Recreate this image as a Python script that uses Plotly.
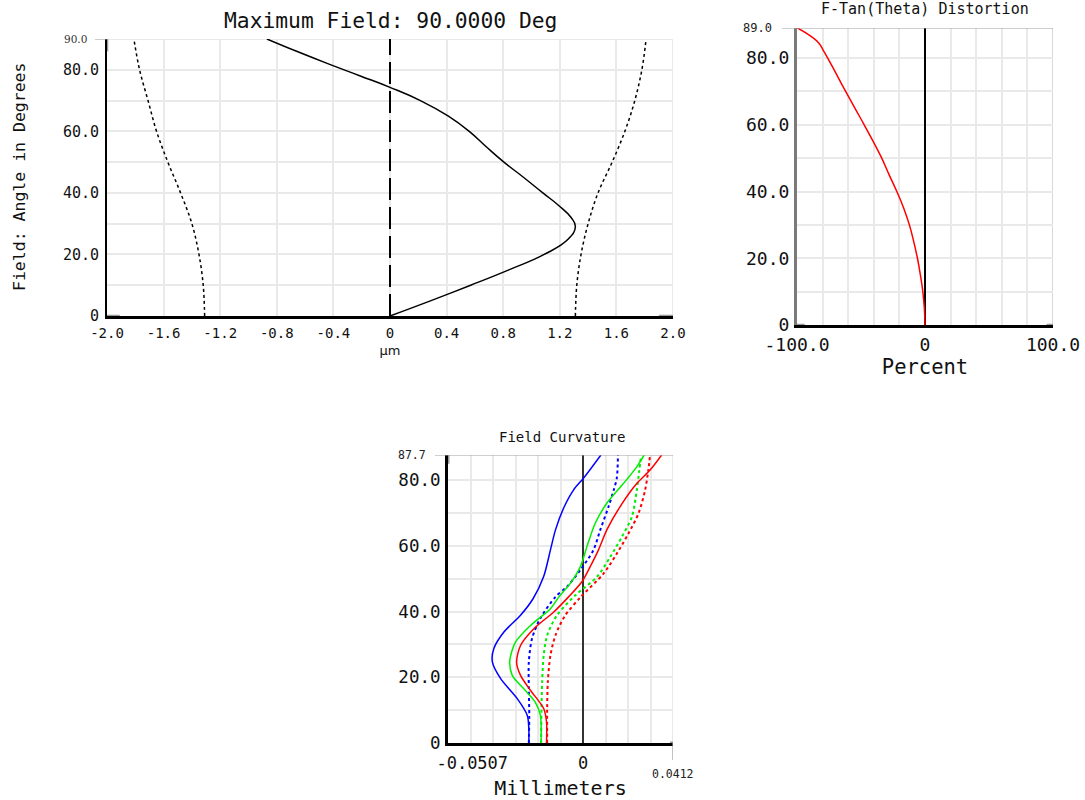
import plotly.graph_objects as go

W, H = 1085, 800
def px(x):
    return x / W
def py(y):
    return 1 - y / H

MONO = "DejaVu Sans Mono"
GRID = "#e9e9e9"
EDGE = "#9a9a9a"

# ---------------- Panel 1: Maximum Field ----------------
p1_field_solid = [0, 5, 10, 15, 20, 25, 29, 32, 36, 40, 45, 50, 55, 60, 65, 70, 74.3, 78, 82, 86, 90]
p1_x_solid = [0, 0.29, 0.57, 0.84, 1.09, 1.26, 1.31, 1.28, 1.19, 1.08, 0.945, 0.805, 0.68, 0.56, 0.41, 0.215, 0.0, -0.21, -0.44, -0.66, -0.87]
p1_field_left = [0, 10, 20, 30, 40, 50, 60, 70, 80, 90]
p1_x_left = [-1.31, -1.32, -1.35, -1.40, -1.48, -1.57, -1.65, -1.71, -1.77, -1.81]
p1_field_right = [0, 10, 20, 30, 40, 50, 60, 70, 80, 90]
p1_x_right = [1.31, 1.32, 1.35, 1.40, 1.47, 1.57, 1.66, 1.73, 1.78, 1.81]
p1_xticks = [-2.0, -1.6, -1.2, -0.8, -0.4, 0, 0.4, 0.8, 1.2, 1.6, 2.0]
p1_xtext = ["-2.0", "-1.6", "-1.2", "-0.8", "-0.4", "0", "0.4", "0.8", "1.2", "1.6", "2.0"]
p1_yticks = [0, 20, 40, 60, 80]
p1_ytext = ["0", "20.0", "40.0", "60.0", "80.0"]

# ---------------- Panel 2: F-Tan(Theta) Distortion ----------------
p2_field = [0, 5, 10, 15, 20, 25, 30, 35, 40, 45, 50, 55, 60, 65, 70, 75, 80, 82, 84.5, 86.5, 89]
p2_dist = [0, -0.5, -1.7, -3.6, -5.9, -8.8, -12.2, -16.6, -22.0, -28.0, -33.8, -40.5, -47.5, -54.8, -62.0, -69.0, -76.0, -79.0, -83.0, -89.0, -99.6]
p2_xticks = [-100, 0, 100]
p2_xtext = ["-100.0", "0", "100.0"]
p2_yticks = [0, 20, 40, 60, 80]
p2_ytext = ["0", "20.0", "40.0", "60.0", "80.0"]

# ---------------- Panel 3: Field Curvature ----------------
fc_blue_t_y = [0, 4.4, 8.4, 13.5, 19.6, 24.7, 28.8, 33.8, 38.9, 44, 50.7, 58.8, 64.9, 71.5, 77.1, 80.7, 87.7]
fc_blue_t_x = [-0.0248, -0.0248, -0.0255, -0.0301, -0.0377, -0.0415, -0.0408, -0.0362, -0.0286, -0.0228, -0.0180, -0.0149, -0.0126, -0.0089, -0.0043, 0.0003, 0.0082]
fc_blue_s_y = [0, 8.4, 16.6, 24.7, 31.9, 38.0, 44.5, 47.6, 52.7, 58.8, 64.9, 72.0, 76.9, 80.8, 87.7]
fc_blue_s_x = [-0.0248, -0.0246, -0.0248, -0.0248, -0.0233, -0.0195, -0.0126, -0.0073, -0.0012, 0.0048, 0.0079, 0.0117, 0.0140, 0.0155, 0.0160]
fc_green_t_y = [0, 8.4, 12.4, 16.5, 20.6, 25.1, 30.7, 35.8, 40.9, 44.5, 48.6, 53.7, 59.8, 66.9, 73, 79, 84.1, 87.7]
fc_green_t_x = [-0.0192, -0.0195, -0.0218, -0.0271, -0.0324, -0.0335, -0.0309, -0.0240, -0.0149, -0.0110, -0.0058, -0.0012, 0.0018, 0.0056, 0.0109, 0.0185, 0.0246, 0.0280]
fc_green_s_y = [0, 10.5, 18.6, 26.7, 32.8, 38.9, 45, 50.6, 56.7, 62.8, 68.9, 76.9, 83.1, 87.7]
fc_green_s_x = [-0.0192, -0.0190, -0.0187, -0.0180, -0.0164, -0.0119, -0.0035, 0.0064, 0.0125, 0.0178, 0.0224, 0.0246, 0.0258, 0.0266]
fc_red_t_y = [0, 6.4, 10.5, 16, 20.6, 24.6, 29.7, 34.8, 39.9, 44.5, 49.1, 53.7, 58.8, 64.9, 72, 79, 83.1, 87.7]
fc_red_t_x = [-0.0167, -0.0167, -0.0180, -0.0240, -0.0286, -0.0304, -0.0286, -0.0225, -0.0134, -0.0066, -0.0005, 0.0033, 0.0071, 0.0109, 0.0170, 0.0246, 0.0307, 0.0360]
fc_red_s_y = [0, 10.5, 18.6, 26.7, 32.8, 38.9, 44.5, 51.6, 57.7, 63.8, 69.9, 76.9, 83.1, 87.7]
fc_red_s_x = [-0.0164, -0.0164, -0.0161, -0.0149, -0.0126, -0.0081, -0.0010, 0.0094, 0.0155, 0.0208, 0.0254, 0.0284, 0.0299, 0.0307]
p3_xticks = [-0.0507, 0]
p3_xtext = ["-0.0507", "0"]
p3_yticks = [0, 20, 40, 60, 80]
p3_ytext = ["0", "20.0", "40.0", "60.0", "80.0"]
p3_xmin, p3_xmax, p3_ymax = -0.0618, 0.0412, 87.7

fig = go.Figure()

# Panel 1 traces
fig.add_trace(go.Scatter(x=p1_x_solid, y=p1_field_solid, mode="lines",
                         line=dict(color="black", width=1.5, shape="spline", smoothing=1.3),
                         xaxis="x", yaxis="y", showlegend=False, hoverinfo="skip"))
fig.add_trace(go.Scatter(x=p1_x_left, y=p1_field_left, mode="lines",
                         line=dict(color="black", width=1.5, dash="dot", shape="spline", smoothing=1.0),
                         xaxis="x", yaxis="y", showlegend=False, hoverinfo="skip"))
fig.add_trace(go.Scatter(x=p1_x_right, y=p1_field_right, mode="lines",
                         line=dict(color="black", width=1.5, dash="dot", shape="spline", smoothing=1.0),
                         xaxis="x", yaxis="y", showlegend=False, hoverinfo="skip"))

# Panel 2 trace
fig.add_trace(go.Scatter(x=p2_dist, y=p2_field, mode="lines",
                         line=dict(color="#ff0000", width=1.5, shape="spline", smoothing=1.3),
                         xaxis="x2", yaxis="y2", showlegend=False, hoverinfo="skip"))

# Panel 3 traces
for xs, ys, col, dash in [
    (fc_blue_t_x, fc_blue_t_y, "#0000ff", "solid"),
    (fc_blue_s_x, fc_blue_s_y, "#0000ff", "dot"),
    (fc_green_t_x, fc_green_t_y, "#00ee00", "solid"),
    (fc_green_s_x, fc_green_s_y, "#00ee00", "dot"),
    (fc_red_t_x, fc_red_t_y, "#ff0000", "solid"),
    (fc_red_s_x, fc_red_s_y, "#ff0000", "dot"),
]:
    fig.add_trace(go.Scatter(x=xs, y=ys, mode="lines",
                             line=dict(color=col, width=1.5 if dash == "solid" else 2, dash=dash,
                                       shape="spline", smoothing=0.8),
                             xaxis="x3", yaxis="y3", showlegend=False, hoverinfo="skip"))

common = dict(ticks="", showgrid=True, gridcolor=GRID, gridwidth=2, zeroline=False,
              showline=True, linecolor="black", fixedrange=True, automargin=False)

fig.update_layout(
    width=W, height=H, margin=dict(l=0, r=0, t=0, b=0, pad=0, autoexpand=False),
    paper_bgcolor="white", plot_bgcolor="white",
    font=dict(family=MONO, color="#111"),
    xaxis=dict(domain=[px(107), px(673)], anchor="y", range=[-2, 2],
               tickmode="array", tickvals=p1_xticks, ticktext=p1_xtext,
               tickfont=dict(family=MONO, size=14), ticklabelstandoff=2, linewidth=2.5,
               title=dict(text="μm", font=dict(family="DejaVu Sans", size=13), standoff=7),
               **common),
    yaxis=dict(domain=[py(316), py(39)], anchor="x", range=[0, 90],
               tickmode="array", tickvals=p1_yticks, ticktext=p1_ytext,
               tickfont=dict(family=MONO, size=15), ticklabelstandoff=3, linewidth=2,
               minor=dict(tick0=0, dtick=10, showgrid=True, gridcolor=GRID, gridwidth=2),
               **common),
    xaxis2=dict(domain=[px(797), px(1053)], anchor="y2", range=[-100, 100],
                tickmode="array", tickvals=p2_xticks, ticktext=p2_xtext,
                tickfont=dict(family=MONO, size=18), ticklabelstandoff=2, linewidth=2.5,
                minor=dict(tick0=0, dtick=20, showgrid=True, gridcolor=GRID, gridwidth=2),
                title=dict(text="Percent", font=dict(family=MONO, size=20.5), standoff=6),
                **{**common, "zeroline": True}, zerolinecolor="black", zerolinewidth=1.5),
    yaxis2=dict(domain=[py(325), py(28)], anchor="x2", range=[0, 89],
                tickmode="array", tickvals=p2_yticks, ticktext=p2_ytext,
                tickfont=dict(family=MONO, size=18), ticklabelstandoff=1,
                minor=dict(tick0=0, dtick=10, showgrid=True, gridcolor=GRID, gridwidth=2),
                **{**common, "linecolor": "#7a7a7a"}, linewidth=3),
    xaxis3=dict(domain=[px(448), px(673)], anchor="y3", range=[p3_xmin, p3_xmax],
                tickmode="array", tickvals=p3_xticks, ticktext=p3_xtext,
                tickfont=dict(family=MONO, size=17), ticklabelstandoff=3, linewidth=3,
                minor=dict(tick0=0, dtick=0.0103, showgrid=True, gridcolor=GRID, gridwidth=2),
                title=dict(text="Millimeters", font=dict(family=MONO, size=20), standoff=9),
                **{**common, "showgrid": False, "zeroline": True}, zerolinecolor="#333", zerolinewidth=1.5),
    yaxis3=dict(domain=[py(743), py(455)], anchor="x3", range=[0, p3_ymax],
                tickmode="array", tickvals=p3_yticks, ticktext=p3_ytext,
                tickfont=dict(family=MONO, size=17.5), ticklabelstandoff=1, linewidth=3,
                minor=dict(tick0=0, dtick=10, showgrid=True, gridcolor=GRID, gridwidth=2),
                **common),
)

shapes = [
    dict(type="line", xref="x", yref="y domain", x0=0, x1=0, y0=0, y1=1,
         line=dict(color="black", width=2, dash="22px,7px")),
    # Panel 1 edges
    dict(type="line", xref="x domain", yref="y", x0=0, x1=1, y0=90, y1=90, line=dict(color=GRID, width=2), layer="below"),
    dict(type="line", xref="paper", yref="y", x0=px(95), x1=px(107), y0=90, y1=90, line=dict(color="#999", width=1)),
    dict(type="line", xref="x", yref="y domain", x0=2, x1=2, y0=0, y1=1, line=dict(color=GRID, width=2), layer="below"),
    dict(type="line", xref="x", yref="y", x0=-2, x1=-2, y0=86, y1=90, line=dict(color=EDGE, width=2.5)),
    dict(type="line", xref="x", yref="y", x0=-2, x1=-1.91, y0=0, y1=0, line=dict(color=EDGE, width=2.5)),
    dict(type="line", xref="x", yref="y", x0=1.9, x1=2, y0=0, y1=0, line=dict(color=EDGE, width=2.5)),
    # Panel 2 edges
    dict(type="line", xref="paper", yref="y2", x0=px(782), x1=px(1053), y0=89, y1=89, line=dict(color="#a0a0a0", width=1.2)),
    dict(type="line", xref="x2", yref="y2 domain", x0=100, x1=100, y0=0, y1=1, line=dict(color="#d8d8d8", width=2), layer="below"),
    dict(type="line", xref="x2", yref="y2", x0=-100, x1=-94, y0=0, y1=0, line=dict(color=EDGE, width=2.5)),
    dict(type="line", xref="x2", yref="y2", x0=95, x1=100, y0=0, y1=0, line=dict(color=EDGE, width=2.5)),
    # Panel 3 edges
    dict(type="line", xref="paper", yref="y3", x0=px(435), x1=px(673), y0=p3_ymax, y1=p3_ymax, line=dict(color="#a0a0a0", width=1.2)),
    dict(type="line", xref="x3", yref="y3 domain", x0=p3_xmax, x1=p3_xmax, y0=0, y1=1, line=dict(color=GRID, width=2), layer="below"),
    dict(type="line", xref="x3", yref="paper", x0=p3_xmax, x1=p3_xmax, y0=py(743), y1=py(760), line=dict(color="#999", width=1.2)),
    dict(type="line", xref="x3", yref="y3", x0=p3_xmin, x1=p3_xmin, y0=85, y1=p3_ymax, line=dict(color=EDGE, width=3)),
    dict(type="line", xref="x3", yref="y3", x0=0.0398, x1=p3_xmax, y0=0, y1=0, line=dict(color=EDGE, width=3)),
]
fig.update_layout(shapes=shapes)

annotations = [
    dict(text="Maximum Field: 90.0000 Deg", xref="paper", yref="paper", x=px(390), y=py(20),
         showarrow=False, font=dict(family=MONO, size=21.3, color="#111"), xanchor="center", yanchor="middle"),
    dict(text="Field: Angle in Degrees", xref="paper", yref="paper", x=px(20), y=py(177),
         showarrow=False, textangle=-90, font=dict(family=MONO, size=16.5, color="#111"),
         xanchor="center", yanchor="middle"),
    dict(text="90.0", xref="paper", yref="y", x=px(89), y=90, showarrow=False,
         font=dict(family="DejaVu Serif", size=10.5, color="#333"), xanchor="right", yanchor="middle"),
    dict(text="F-Tan(Theta) Distortion", xref="paper", yref="paper", x=px(925), y=py(9),
         showarrow=False, font=dict(family=MONO, size=15, color="#111"), xanchor="center", yanchor="middle"),
    dict(text="89.0", xref="paper", yref="y2", x=px(774), y=89, showarrow=False,
         font=dict(family=MONO, size=12, color="#222"), xanchor="right", yanchor="middle"),
    dict(text="Field Curvature", xref="paper", yref="paper", x=px(562), y=py(437),
         showarrow=False, font=dict(family=MONO, size=14, color="#111"), xanchor="center", yanchor="middle"),
    dict(text="87.7", xref="paper", yref="y3", x=px(428), y=p3_ymax, showarrow=False,
         font=dict(family=MONO, size=11.5, color="#222"), xanchor="right", yanchor="middle"),
    dict(text="0.0412", xref="x3", yref="paper", x=p3_xmax, y=py(774), showarrow=False,
         font=dict(family=MONO, size=11.5, color="#222"), xanchor="center", yanchor="middle"),
]
fig.update_layout(annotations=annotations)

fig.write_html("out.html")
